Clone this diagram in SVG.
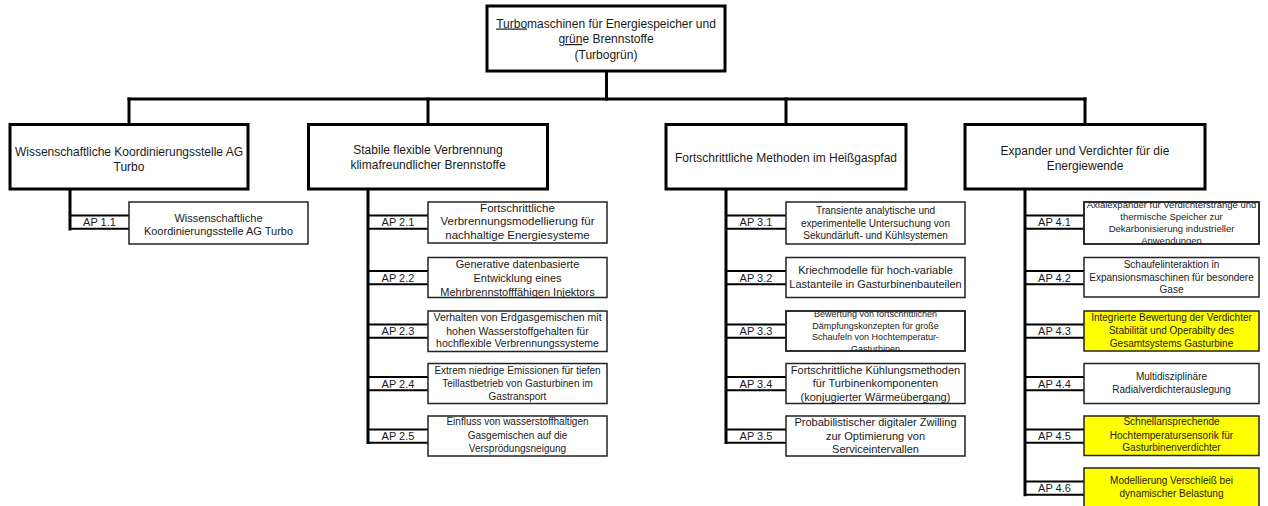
<svg xmlns="http://www.w3.org/2000/svg" width="1268" height="506" viewBox="0 0 1268 506">
<style>
.mb{fill:#fff;stroke:#000;stroke-width:3}
.sb{fill:#fff;stroke:#222;stroke-width:1.5}
.sy{fill:#ffff00;stroke:#222;stroke-width:1.5}
.ln{stroke:#000;stroke-width:3;fill:none;stroke-linecap:square}
.ap{stroke:#000;stroke-width:2;fill:none}
text{font-family:"Liberation Sans",Arial,sans-serif;fill:#1a1a1a;text-anchor:middle}
.f12{font-size:12px}
.f11{font-size:11px}
.f115{font-size:11.5px}
.f105{font-size:10.5px}
.f10{font-size:10px}
.f95{font-size:9.5px}
.f9{font-size:9px}
.u{text-decoration:underline}
</style>
<defs>
<clipPath id="c33"><rect x="786" y="311" width="179" height="40"/></clipPath>
<clipPath id="c41"><rect x="1084" y="202" width="175" height="42"/></clipPath>
</defs>
<rect width="1268" height="506" fill="#fff"/>

<g id="connectors">
<line class="ln" x1="606.5" y1="71" x2="606.5" y2="99"/>
<line class="ln" x1="129" y1="99" x2="1085" y2="99"/>
<line class="ln" x1="129" y1="99" x2="129" y2="124"/>
<line class="ln" x1="428" y1="99" x2="428" y2="124"/>
<line class="ln" x1="786" y1="99" x2="786" y2="124"/>
<line class="ln" x1="1085" y1="99" x2="1085" y2="124"/>
<line class="ln" x1="70" y1="189" x2="70" y2="229"/>
<line class="ln" x1="368" y1="189" x2="368" y2="442.5"/>
<line class="ln" x1="726" y1="189" x2="726" y2="442.5"/>
<line class="ln" x1="1025" y1="189" x2="1025" y2="494.8"/>
<path class="ap" d="M70 215.5H129M70 228.8H129"/>
<path class="ap" d="M368 215.5H428M368 228.8H428M368 271H428M368 284.3H428M368 324.5H428M368 337.8H428M368 377H428M368 390.3H428M368 429.5H428M368 442.8H428"/>
<path class="ap" d="M726 215.5H786M726 228.8H786M726 271H786M726 284.3H786M726 324.5H786M726 337.8H786M726 377H786M726 390.3H786M726 429.5H786M726 442.8H786"/>
<path class="ap" d="M1025 215.5H1084M1025 228.8H1084M1025 271H1084M1025 284.3H1084M1025 324.5H1084M1025 337.8H1084M1025 377H1084M1025 390.3H1084M1025 429.5H1084M1025 442.8H1084M1025 481.5H1084M1025 494.8H1084"/>
<g class="f11">
<text x="99.5" y="226">AP 1.1</text>
<text x="398" y="226">AP 2.1</text>
<text x="398" y="281.5">AP 2.2</text>
<text x="398" y="335">AP 2.3</text>
<text x="398" y="387.5">AP 2.4</text>
<text x="398" y="440">AP 2.5</text>
<text x="756" y="226">AP 3.1</text>
<text x="756" y="281.5">AP 3.2</text>
<text x="756" y="335">AP 3.3</text>
<text x="756" y="387.5">AP 3.4</text>
<text x="756" y="440">AP 3.5</text>
<text x="1054.5" y="226">AP 4.1</text>
<text x="1054.5" y="281.5">AP 4.2</text>
<text x="1054.5" y="335">AP 4.3</text>
<text x="1054.5" y="387.5">AP 4.4</text>
<text x="1054.5" y="440">AP 4.5</text>
<text x="1054.5" y="492">AP 4.6</text>
</g>
</g>

<g id="root">
<rect class="mb" x="487" y="6" width="238" height="65"/>
<text class="f12" x="606" y="27.5"><tspan class="u">Turbo</tspan>maschinen für Energiespeicher und</text>
<text class="f12" x="606" y="43"><tspan class="u">grün</tspan>e Brennstoffe</text>
<text class="f12" x="606" y="58.5">(Turbogrün)</text>
</g>

<g id="b1">
<rect class="mb" x="10" y="124.5" width="238" height="64.5"/>
<text class="f12" x="129" y="155.5">Wissenschaftliche Koordinierungsstelle AG</text>
<text class="f12" x="129" y="170.5">Turbo</text>
</g>
<g id="b2">
<rect class="mb" x="308.5" y="124.5" width="239" height="64.5"/>
<text class="f12" x="428" y="154.3">Stabile flexible Verbrennung</text>
<text class="f12" x="428" y="169.3">klimafreundlicher Brennstoffe</text>
</g>
<g id="b3">
<rect class="mb" x="666" y="124.5" width="240" height="64.5"/>
<text class="f12" x="786" y="162">Fortschrittliche Methoden im Heißgaspfad</text>
</g>
<g id="b4">
<rect class="mb" x="965" y="124.5" width="240" height="64.5"/>
<text class="f12" x="1085" y="154.5">Expander und Verdichter für die</text>
<text class="f12" x="1085" y="170">Energiewende</text>
</g>

<g id="ap11">
<rect class="sb" x="129" y="202" width="179" height="42"/>
<text class="f11" x="218.5" y="221.7">Wissenschaftliche</text>
<text class="f11" x="218.5" y="234.5">Koordinierungsstelle AG Turbo</text>
</g>

<g id="ap21">
<rect class="sb" x="428" y="202" width="179" height="41"/>
<text class="f115" x="517.5" y="211.8">Fortschrittliche</text>
<text class="f115" x="517.5" y="225.4">Verbrennungsmodellierung für</text>
<text class="f115" x="517.5" y="239.1">nachhaltige Energiesysteme</text>
</g>
<g id="ap22">
<rect class="sb" x="428" y="257.5" width="179" height="40"/>
<text class="f11" x="517.5" y="268">Generative datenbasierte</text>
<text class="f11" x="517.5" y="282.3">Entwicklung eines</text>
<text class="f11" x="517.5" y="295.7">Mehrbrennstofffähigen Injektors</text>
</g>
<g id="ap23">
<rect class="sb" x="428" y="311" width="179" height="40.5"/>
<text class="f105" x="517.5" y="321.1">Verhalten von Erdgasgemischen mit</text>
<text class="f105" x="517.5" y="334.5">hohen Wasserstoffgehalten für</text>
<text class="f105" x="517.5" y="347.1">hochflexible Verbrennungssysteme</text>
</g>
<g id="ap24">
<rect class="sb" x="428" y="363.5" width="179" height="40"/>
<text class="f10" x="517.5" y="374.3">Extrem niedrige Emissionen für tiefen</text>
<text class="f10" x="517.5" y="386.9">Teillastbetrieb von Gasturbinen im</text>
<text class="f10" x="517.5" y="399.6">Gastransport</text>
</g>
<g id="ap25">
<rect class="sb" x="428" y="416" width="179" height="40"/>
<text class="f10" x="517.5" y="425.3">Einfluss von wasserstoffhaltigen</text>
<text class="f10" x="517.5" y="438.8">Gasgemischen auf die</text>
<text class="f10" x="517.5" y="451.9">Versprödungsneigung</text>
</g>

<g id="ap31">
<rect class="sb" x="786" y="202" width="179" height="42"/>
<text class="f10" x="875.5" y="214.3">Transiente analytische und</text>
<text class="f10" x="875.5" y="226.9">experimentelle Untersuchung von</text>
<text class="f10" x="875.5" y="239.3">Sekundärluft- und Kühlsystemen</text>
</g>
<g id="ap32">
<rect class="sb" x="786" y="257.5" width="179" height="40"/>
<text class="f11" x="875.5" y="274">Kriechmodelle für hoch-variable</text>
<text class="f11" x="875.5" y="288">Lastanteile in Gasturbinenbauteilen</text>
</g>
<g id="ap33">
<rect class="sb" x="786" y="311" width="179" height="40"/>
<g clip-path="url(#c33)">
<text class="f9" x="875.5" y="317.3">Bewertung von fortschrittlichen</text>
<text class="f9" x="875.5" y="329">Dämpfungskonzepten für große</text>
<text class="f9" x="875.5" y="340.2">Schaufeln von Hochtemperatur-</text>
<text class="f9" x="875.5" y="351.6">Gasturbinen</text>
</g>
<rect x="786" y="311" width="179" height="40" fill="none" stroke="#222" stroke-width="1.5"/>
</g>
<g id="ap34">
<rect class="sb" x="786" y="363.5" width="179" height="40"/>
<text class="f11" x="875.5" y="374">Fortschrittliche Kühlungsmethoden</text>
<text class="f11" x="875.5" y="387.3">für Turbinenkomponenten</text>
<text class="f11" x="875.5" y="400.7">(konjugierter Wärmeübergang)</text>
</g>
<g id="ap35">
<rect class="sb" x="786" y="416" width="179" height="40"/>
<text class="f11" x="875.5" y="425.7">Probabilistischer digitaler Zwilling</text>
<text class="f11" x="875.5" y="440">zur Optimierung von</text>
<text class="f11" x="875.5" y="453">Serviceintervallen</text>
</g>

<g id="ap41">
<rect class="sb" x="1084" y="202" width="175" height="42"/>
<g clip-path="url(#c41)">
<text class="f95" x="1171.5" y="208.4">Axialexpander für Verdichterstränge und</text>
<text class="f95" x="1171.5" y="220.1">thermische Speicher zur</text>
<text class="f95" x="1171.5" y="232.4">Dekarbonisierung industrieller</text>
<text class="f95" x="1171.5" y="243.6">Anwendungen</text>
</g>
<rect x="1084" y="202" width="175" height="42" fill="none" stroke="#222" stroke-width="1.5"/>
</g>
<g id="ap42">
<rect class="sb" x="1084" y="257.5" width="175" height="39.5"/>
<text class="f10" x="1171.5" y="267.6">Schaufelinteraktion in</text>
<text class="f10" x="1171.5" y="280.9">Expansionsmaschinen für besondere</text>
<text class="f10" x="1171.5" y="292.6">Gase</text>
</g>
<g id="ap43">
<rect class="sy" x="1084" y="311" width="175" height="40"/>
<text class="f10" x="1171.5" y="320.9">Integrierte Bewertung der Verdichter</text>
<text class="f10" x="1171.5" y="334.3">Stabilität und Operabilty des</text>
<text class="f10" x="1171.5" y="346.9">Gesamtsystems Gasturbine</text>
</g>
<g id="ap44">
<rect class="sb" x="1084" y="363.5" width="175" height="40"/>
<text class="f10" x="1171.5" y="379.6">Multidisziplinäre</text>
<text class="f10" x="1171.5" y="392.9">Radialverdichterauslegung</text>
</g>
<g id="ap45">
<rect class="sy" x="1084" y="416" width="175" height="39.5"/>
<text class="f10" x="1171.5" y="425.3">Schnellansprechende</text>
<text class="f10" x="1171.5" y="438.6">Hochtemperatursensorik für</text>
<text class="f10" x="1171.5" y="450.9">Gasturbinenverdichter</text>
</g>
<g id="ap46">
<rect class="sy" x="1084" y="468" width="175" height="42"/>
<text class="f10" x="1171.5" y="484.3">Modellierung Verschleiß bei</text>
<text class="f10" x="1171.5" y="496.9">dynamischer Belastung</text>
</g>
</svg>
